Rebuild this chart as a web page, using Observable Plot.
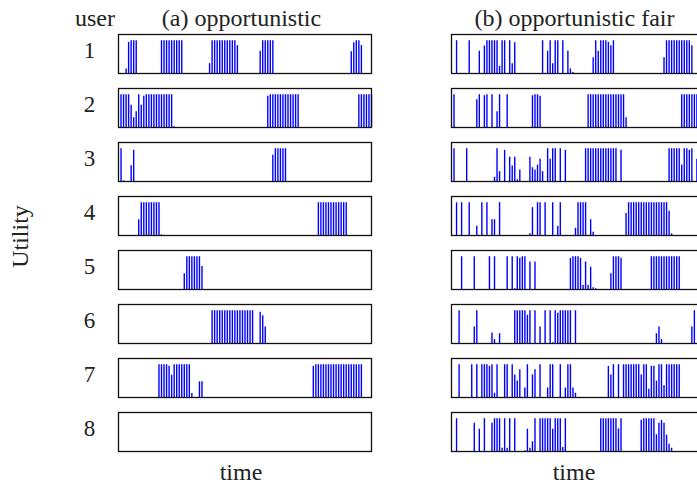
<!DOCTYPE html>
<html>
<head>
<meta charset="utf-8">
<script src="https://cdn.jsdelivr.net/npm/d3@7"></script>
<script src="https://cdn.jsdelivr.net/npm/@observablehq/plot@0.6"></script>
<style>
  html, body { margin: 0; padding: 0; background: #fff; overflow: hidden; }
  #chart { width: 697px; height: 484px; overflow: hidden; }
</style>
</head>
<body>
<div id="chart"></div>
<script>
// Users (rows) and scheduling schemes (columns)
const users = [1, 2, 3, 4, 5, 6, 7, 8];
const schemes = ["a", "b"];
const schemeTitles = ["(a) opportunistic", "(b) opportunistic fair"];

// Per-user utility over time slots, as [slot, utility] pairs — opportunistic scheduler
const opp1 = [[3,.14],[4,.95],[5,1],[6,1],[7,1],[17,1],[18,1],[19,1],[20,1],[21,1],[22,1],[23,1],[24,1],[25,1],
  [36,.3],[37,1],[38,1],[39,1],[40,1],[41,1],[42,1],[43,1],[44,1],[45,1],[46,1],[47,.85],
  [56,.68],[57,1],[58,1],[59,1],[60,1],[61,1],[92,.66],[93,.94],[94,1],[95,1],[96,.85]];
const opp2 = [[1,1],[2,1],[3,1],[4,1],[5,.68],[6,.3],[7,.48],[8,1],[9,.68],[10,.95],[11,1],[12,1],[13,1],[14,1],
  [15,1],[16,1],[17,1],[18,1],[19,1],[20,1],[21,1],[22,.02],
  [59,.95],[60,1],[61,1],[62,1],[63,1],[64,1],[65,1],[66,1],[67,1],[68,1],[69,1],[70,1],[71,1],
  [95,1],[96,1],[97,1],[98,1],[99,1],[100,1]];
const opp3 = [[1,1],[2,.02],[5,.48],[6,.95],[61,.8],[62,1],[63,1],[64,1],[65,1],[66,1]];
const opp4 = [[8,.48],[9,1],[10,1],[11,1],[12,1],[13,1],[14,1],[15,1],[16,1],[17,.02],
  [79,1],[80,1],[81,1],[82,1],[83,1],[84,1],[85,1],[86,1],[87,1],[88,1],[89,1],[90,1]];
const opp5 = [[26,.48],[27,1],[28,1],[29,1],[30,1],[31,1],[32,1],[33,.7]];
const opp6 = [[37,1],[38,1],[39,1],[40,1],[41,1],[42,1],[43,1],[44,1],[45,1],[46,1],[47,1],[48,1],[49,1],
  [50,1],[51,1],[52,1],[53,1],[56,.95],[57,.85],[58,.5]];
const opp7 = [[16,1],[17,1],[18,1],[19,1],[20,.95],[21,.68],[22,1],[23,1],[24,1],[25,1],[26,1],[27,1],[28,1],
  [29,.12],[32,.48],[33,.48],
  [77,.95],[78,1],[79,1],[80,1],[81,1],[82,1],[83,1],[84,1],[85,1],[86,1],[87,1],[88,1],[89,1],[90,1],
  [91,1],[92,1],[93,1],[94,1],[95,1],[96,1]];
const opp8 = [];

// Same users under the opportunistic fair scheduler
const fair1 = [[2,1],[7,1],[11,.68],[13,.84],[14,1],[15,1],[16,1],[17,1],[18,1],[19,.22],[20,1],[21,1],[23,1],
  [24,.3],[25,.94],[36,1],[38,.68],[39,1],[40,.3],[41,1],[42,1],[44,1],[46,.68],[47,.14],[48,.03],
  [56,.48],[57,1],[58,.68],[59,1],[60,1],[61,1],[62,.95],[63,.85],[64,1],
  [84,.48],[85,1],[86,1],[87,1],[88,1],[89,1],[90,1],[91,1],[92,1],[93,1],[94,1],[95,.85]];
const fair2 = [[1,1],[10,.85],[11,1],[13,.97],[14,1],[16,1],[18,.48],[19,1],[22,1],[32,.97],[33,1],[34,1],[35,.95],
  [54,1],[55,1],[56,1],[57,1],[58,1],[59,1],[60,1],[61,1],[62,1],[63,1],[64,1],[65,1],[66,1],[67,1],[68,1],
  [69,.3],[91,1],[92,1],[93,1],[94,1],[95,1],[96,1],[97,1],[98,1]];
const fair3 = [[1,1],[6,1],[17,.13],[18,1],[19,.3],[21,.95],[23,.74],[24,.47],[25,.74],[26,.05],[27,.35],
  [31,.74],[32,.42],[33,.35],[34,.5],[35,.68],[36,.3],[38,1],[39,.68],[40,1],[41,1],[43,1],[45,.95],
  [53,1],[54,1],[55,1],[56,1],[57,1],[58,1],[59,1],[60,1],[61,1],[62,1],[63,1],[64,1],[65,1],[67,.95],
  [86,1],[87,1],[88,1],[89,1],[90,1],[91,.5],[92,1],[93,1],[94,.95],[95,1],[97,.68]];
const fair4 = [[2,1],[4,1],[7,1],[10,.28],[12,1],[14,1],[16,.48],[17,.48],[19,1],[31,.05],[32,.85],[34,1],
  [35,1],[37,1],[40,1],[42,.28],[43,1],[49,.22],[50,1],[51,1],[52,1],[53,1],[55,.48],[56,.1],
  [69,.67],[70,1],[71,1],[72,1],[73,1],[74,1],[75,1],[76,1],[77,1],[78,1],[79,1],[80,1],[81,1],[82,1],
  [83,1],[84,1],[85,1],[86,.74],[87,.05]];
const fair5 = [[4,1],[9,1],[15,1],[17,1],[22,1],[24,1],[25,.02],[26,1],[27,.95],[28,1],[29,1],[31,.84],[33,.84],
  [47,.95],[48,1],[49,1],[50,1],[51,.95],[52,.12],[53,.84],[54,.12],[55,.68],[56,.05],[57,.02],
  [63,.48],[64,1],[65,1],[66,1],[67,.95],
  [79,1],[80,1],[81,1],[82,1],[83,1],[84,1],[85,1],[86,1],[87,1],[88,1],[89,1],[90,1]];
const fair6 = [[3,1],[9,.5],[10,1],[16,.32],[17,.12],[19,.3],[25,1],[26,1],[27,1],[28,1],[29,1],[30,.86],
  [31,1],[33,1],[35,.5],[37,1],[39,1],[40,.02],[41,1],[42,.92],[43,1],[44,1],[45,1],[46,1],[47,1],[49,1],
  [81,.3],[82,.5],[83,.12],[95,.5],[96,1]];
const fair7 = [[3,1],[8,1],[10,1],[12,1],[13,1],[14,1],[15,.95],[16,1],[17,.13],[18,1],[21,1],[22,1],[24,1],
  [25,.69],[26,.5],[27,.85],[29,.29],[30,1],[32,.69],[33,.85],[35,1],[38,.29],[39,1],[40,1],[43,1],
  [45,.29],[46,1],[47,1],[48,.29],[49,.13],
  [62,.95],[63,.69],[64,1],[66,1],[68,1],[69,1],[70,1],[71,1],[72,1],[73,1],[74,1],[75,.69],[76,1],[77,1],
  [78,.25],[79,.95],[80,.95],[81,.5],[82,1],[83,1],[84,.36],[85,1],[86,1],[87,1],[88,1],[89,1],[90,1]];
const fair8 = [[2,1],[9,.86],[11,.68],[13,1],[16,.86],[17,1],[18,1],[19,1],[20,.1],[21,1],[22,.1],[23,1],[25,1],
  [29,.02],[30,.68],[31,.1],[32,.3],[33,1],[35,1],[36,1],[37,1],[38,1],[39,1],[40,.68],[41,1],[42,1],[43,1],
  [44,.12],[45,1],
  [59,1],[60,1],[61,1],[62,1],[63,1],[64,1],[65,1],[66,.69],[67,1],
  [75,.95],[76,1],[77,1],[78,1],[79,1],[80,1],[81,.51],[82,.86],[83,.95],[84,.86],[85,.5],[86,.22],[87,.1]];

const opportunistic = [opp1, opp2, opp3, opp4, opp5, opp6, opp7, opp8];
const fair = [fair1, fair2, fair3, fair4, fair5, fair6, fair7, fair8];

// Flat table of stems: one row per (scheme, user, slot)
const stems = [];
[opportunistic, fair].forEach((series, s) => {
  series.forEach((pairs, u) => {
    for (const [t, v] of pairs) stems.push({scheme: schemes[s], user: users[u], t, v});
  });
});

const serif = "'Liberation Serif', 'Times New Roman', Times, serif";

const chart = Plot.plot({
  width: 706,
  height: 484,
  marginLeft: 117.3,
  marginRight: 2,
  marginTop: 33.7,
  marginBottom: 33,
  style: {fontFamily: serif, fontSize: "24px", color: "#222", background: "#fff", maxWidth: "none", overflow: "visible"},
  x: {domain: [0, 100], axis: null},
  y: {domain: [0, 1.19], axis: null},
  fx: {domain: schemes, axis: null, paddingInner: 0.2402, paddingOuter: 0},
  fy: {domain: users, axis: null, paddingInner: 0.2783, paddingOuter: 0},
  marks: [
    Plot.ruleX(stems, {x: "t", y1: 0, y2: "v", fx: "scheme", fy: "user", stroke: "#0000ff", strokeWidth: 1.4}),
    Plot.frame({stroke: "#111", strokeWidth: 1.3}),
    // user numbers to the left of each row
    Plot.text(users, {fx: () => "a", fy: d => d, text: d => String(d), frameAnchor: "left",
      dx: -29, dy: -3, textAnchor: "middle", lineAnchor: "middle", fontSize: 23}),
    // column titles
    Plot.text(schemes, {fx: d => d, fy: () => 1, text: (d, i) => schemeTitles[i], frameAnchor: "top",
      dx: -3.5, dy: -16.5, textAnchor: "middle", lineAnchor: "middle"}),
    Plot.text(["user"], {fx: () => "a", fy: () => 1, text: d => d, frameAnchor: "top-left",
      dx: -23.6, dy: -16.5, textAnchor: "middle", lineAnchor: "middle"}),
    // x-axis labels under each column
    Plot.text(schemes, {fx: d => d, fy: () => 8, text: () => "time", frameAnchor: "bottom",
      dx: -4, dy: 20.6, textAnchor: "middle", lineAnchor: "middle"}),
    // y-axis label
    Plot.text(["Utility"], {fx: () => "a", fy: () => 4, text: d => d, frameAnchor: "bottom-left",
      dx: -98.5, dy: 1, rotate: -90, textAnchor: "middle", lineAnchor: "middle"})
  ]
});
chart.style.maxWidth = "none";
document.getElementById("chart").appendChild(chart);
</script>
</body>
</html>
